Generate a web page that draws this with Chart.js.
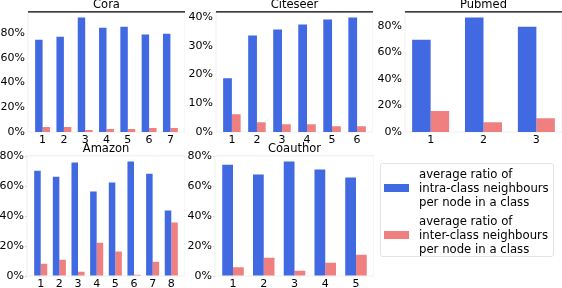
<!DOCTYPE html>
<html>
<head>
<meta charset="utf-8">
<script src="https://cdn.jsdelivr.net/npm/chart.js@4.4.1/dist/chart.umd.min.js"></script>
<style>
  body { margin: 0; width: 562px; height: 288px; overflow: hidden; background: #fff; position: relative; font-family: 'DejaVu Sans', sans-serif; }
  canvas { position: absolute; }
  #legend { position: absolute; left: 380px; top: 163px; width: 174px; height: 94px; border: 1px solid #e3e3e3; border-radius: 3px; box-sizing: border-box; padding-top: 3px; }
  .entry { display: flex; align-items: center; margin-bottom: 5px; }
  .swatch { width: 25px; height: 8px; margin-left: 3px; margin-right: 10px; }
  .text { font-size: 11.7px; line-height: 14px; color: #000; white-space: nowrap; }
</style>
</head>
<body>
<canvas id="cora" width="185" height="150" style="left:0px;top:-2px"></canvas>
<canvas id="citeseer" width="187" height="150" style="left:186px;top:-2px"></canvas>
<canvas id="pubmed" width="187" height="150" style="left:375px;top:-2px"></canvas>
<canvas id="amazon" width="185" height="148" style="left:0px;top:142px"></canvas>
<canvas id="coauthor" width="189" height="148" style="left:185px;top:142px"></canvas>
<div id="legend"></div>
<script>
/* Data (percent of neighbours) */
const series_labels = [
  ['average ratio of', 'intra-class neighbours', 'per node in a class'],
  ['average ratio of', 'inter-class neighbours', 'per node in a class']
];
const series_colors = ['#4169E1', '#F08080'];

const cora_classes = [1, 2, 3, 4, 5, 6, 7];
const cora_intra = [74.6, 77.0, 92.6, 84.3, 85.1, 78.9, 79.4];
const cora_inter = [4.0, 4.0, 1.6, 2.4, 2.4, 3.2, 3.2];
const cora_ticks = [0, 20, 40, 60, 80];

const citeseer_classes = [1, 2, 3, 4, 5, 6];
const citeseer_intra = [18.7, 33.6, 35.7, 37.5, 39.2, 39.9];
const citeseer_inter = [6.2, 3.4, 2.7, 2.7, 2.0, 2.0];
const citeseer_ticks = [0, 10, 20, 30, 40];

const pubmed_classes = [1, 2, 3];
const pubmed_intra = [69.5, 86.3, 79.3];
const pubmed_inter = [15.8, 7.3, 10.3];
const pubmed_ticks = [0, 20, 40, 60, 80];

const amazon_classes = [1, 2, 3, 4, 5, 6, 7, 8];
const amazon_intra = [70.4, 66.4, 75.8, 56.4, 62.4, 76.5, 68.4, 43.7];
const amazon_inter = [8.2, 10.9, 2.9, 22.3, 16.3, 0.9, 9.6, 35.7];
const amazon_ticks = [0, 20, 40, 60, 80];

const coauthor_classes = [1, 2, 3, 4, 5];
const coauthor_intra = [74.4, 67.8, 76.5, 71.1, 65.8];
const coauthor_inter = [5.8, 12.2, 3.5, 8.9, 14.2];
const coauthor_ticks = [0, 20, 40, 60, 80];

const font_family = "'DejaVu Sans', sans-serif";

// light frame round each axes, black top edge on the first row
const spines = {
  id: 'spines',
  beforeDatasetsDraw(chart, args, opts) {
    const { ctx, chartArea: a } = chart;
    ctx.save();
    ctx.strokeStyle = '#efefef';
    ctx.lineWidth = 1;
    ctx.strokeRect(a.left, a.top, a.right - a.left, a.bottom - a.top);
    ctx.restore();
  },
  afterDatasetsDraw(chart, args, opts) {
    if (!opts.topColor) return;
    const { ctx, chartArea: a } = chart;
    ctx.save();
    ctx.strokeStyle = opts.topColor;
    ctx.lineWidth = 1.3;
    ctx.beginPath();
    ctx.moveTo(a.left, a.top);
    ctx.lineTo(a.right, a.top);
    ctx.stroke();
    ctx.restore();
  }
};

const buildChart = (id, title, classes, intra, inter, y_ticks, opt) => {
  const n = classes.length;
  // bars take 0.35 each side of the class, plus 5% margin like matplotlib
  const pad = 0.05 * (classes[n - 1] - classes[0] + 0.7);
  const x_min = classes[0] - 0.35 - pad;
  const x_max = classes[n - 1] + 0.35 + pad;
  const y_max = Math.max(...intra, ...inter) * 1.05;

  const toPoints = (vals) => vals.map((v, i) => ({ x: classes[i], y: v }));

  return new Chart(document.getElementById(id).getContext('2d'), {
    type: 'bar',
    data: {
      datasets: [
        { label: series_labels[0].join(' '), data: toPoints(intra), backgroundColor: series_colors[0] },
        { label: series_labels[1].join(' '), data: toPoints(inter), backgroundColor: series_colors[1] }
      ]
    },
    options: {
      responsive: false,
      animation: false,
      events: [],
      categoryPercentage: 0.7,
      barPercentage: 1.0,
      layout: { padding: 0, autoPadding: false },
      scales: {
        x: {
          type: 'linear',
          offset: false,
          min: x_min,
          max: x_max,
          grid: { display: false, drawTicks: false },
          border: { display: false },
          afterBuildTicks: (axis) => { axis.ticks = classes.map(v => ({ value: v })); },
          afterFit: (axis) => { axis.height = opt.xh; },
          ticks: { color: '#000', padding: 2, font: { family: font_family, size: 11 }, callback: (v) => String(v) }
        },
        y: {
          min: 0,
          max: y_max,
          grid: opt.yTickMarks
            ? { drawOnChartArea: false, drawTicks: true, tickLength: 2, color: '#d9d9d9' }
            : { display: false, drawTicks: false },
          border: { display: false },
          afterBuildTicks: (axis) => { axis.ticks = y_ticks.map(v => ({ value: v })); },
          afterFit: (axis) => { axis.width = opt.yw; },
          ticks: { color: '#000', padding: opt.yTickMarks ? 1 : 3, font: { family: font_family, size: 11 }, callback: (v) => v + '%' }
        }
      },
      plugins: {
        legend: { display: false },
        tooltip: { enabled: false },
        title: {
          display: true,
          text: title,
          fullSize: false,
          padding: 0,
          color: '#000',
          font: { family: font_family, size: 11.5, weight: 'normal', lineHeight: 1.2 }
        },
        spines: { topColor: opt.topColor }
      }
    },
    plugins: [spines]
  });
};

const top_row = { xh: 16, yw: 28, topColor: '#000', yTickMarks: false };
buildChart('cora', 'Cora', cora_classes, cora_intra, cora_inter, cora_ticks, top_row);
buildChart('citeseer', 'Citeseer', citeseer_classes, citeseer_intra, citeseer_inter, citeseer_ticks, { ...top_row, yw: 30 });
buildChart('pubmed', 'Pubmed', pubmed_classes, pubmed_intra, pubmed_inter, pubmed_ticks, { ...top_row, yw: 30 });

const bottom_row = { xh: 14, yw: 27, topColor: null, yTickMarks: true };
buildChart('amazon', 'Amazon', amazon_classes, amazon_intra, amazon_inter, amazon_ticks, bottom_row);
buildChart('coauthor', 'Coauthor', coauthor_classes, coauthor_intra, coauthor_inter, coauthor_ticks, { ...bottom_row, yw: 30 });

/* Legend */
const legend_el = document.getElementById('legend');
series_labels.forEach((lines, i) => {
  const entry = document.createElement('div');
  entry.className = 'entry';
  const sw = document.createElement('div');
  sw.className = 'swatch';
  sw.style.background = series_colors[i];
  const txt = document.createElement('div');
  txt.className = 'text';
  txt.innerHTML = lines.join('<br>');
  entry.appendChild(sw);
  entry.appendChild(txt);
  legend_el.appendChild(entry);
});
</script>
</body>
</html>
